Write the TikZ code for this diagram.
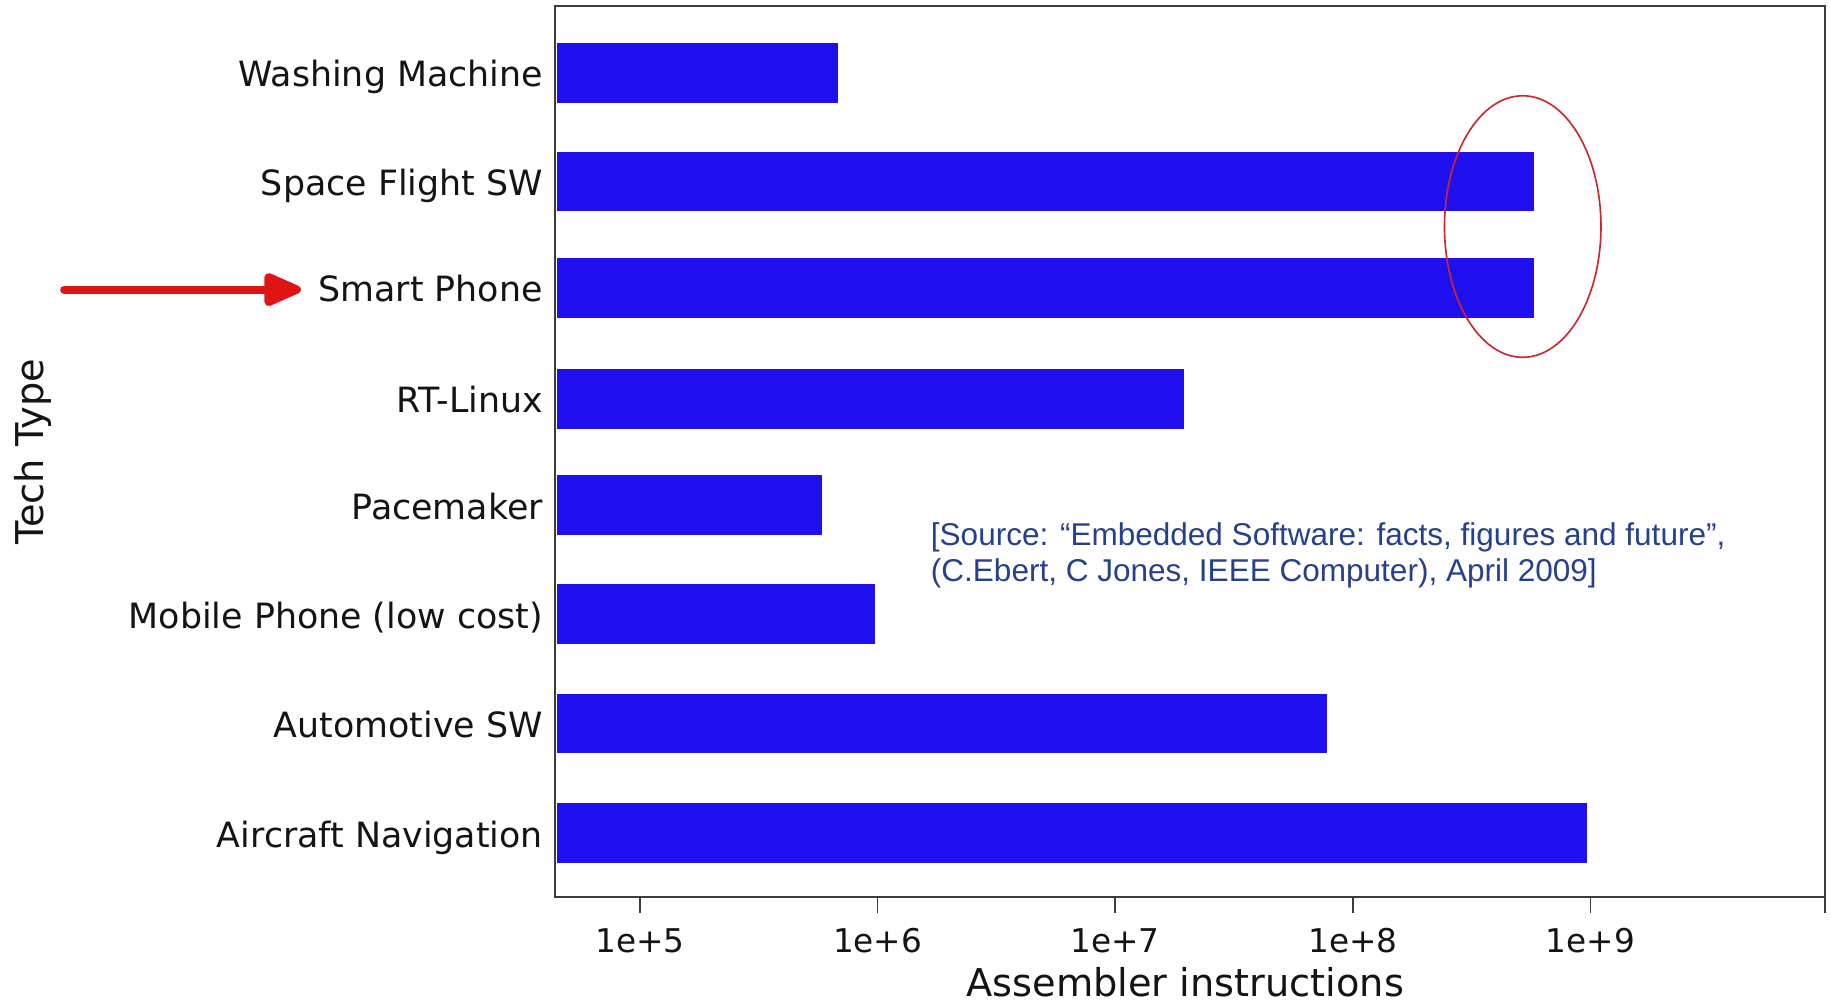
\documentclass[tikz,border=0pt]{standalone}
\usepackage{fontspec}
\setmainfont{DejaVu Sans}
\newfontfamily\srcfont{Liberation Sans}
\usetikzlibrary{arrows.meta,shapes.geometric}
\definecolor{barblue}{RGB}{32,16,240}
\definecolor{srcblue}{RGB}{38,64,140}
\definecolor{ringred}{RGB}{200,40,45}
\definecolor{arrred}{RGB}{225,20,20}
\definecolor{framegray}{RGB}{60,60,60}
\definecolor{lblgray}{RGB}{20,20,20}
\begin{document}
\begin{tikzpicture}[x=1pt,y=-1pt,
  bar/.style={fill=barblue,draw=none,anchor=west,minimum height=51pt,inner sep=0,outer sep=0},
  catlbl/.style={anchor=base east,inner sep=0,text=lblgray,font=\fontsize{29.8}{34}\selectfont},
  ticklbl/.style={anchor=base,inner sep=0,text=lblgray,font=\fontsize{28}{33}\selectfont},
  axtitle/.style={inner sep=0,text=lblgray,font=\fontsize{32.8}{37}\selectfont},
  frame/.style={draw=framegray,line width=2pt},
  tickmark/.style={draw=framegray,line width=1.6pt},
  srctext/.style={anchor=base west,inner sep=0,text=srcblue,font=\srcfont\fontsize{27}{30.5}\selectfont},
  redarrow/.style={draw=arrred,line width=7pt,line cap=round,-{Triangle[length=37pt,width=30pt,round]},arrred},
  ring/.style={draw=ringred,line width=1.4pt,ellipse,inner sep=0}
]
\fill[white] (0,0) rectangle (1568,859);
\useasboundingbox (0,0) rectangle (1568,859);

% bars
\node[bar,minimum width=241pt] (bWM) at (477,62.5) {};
\node[bar,minimum width=837pt] (bSF) at (477,155.5) {};
\node[bar,minimum width=837pt] (bSP) at (477,246.5) {};
\node[bar,minimum width=537pt] (bRT) at (477,341.5) {};
\node[bar,minimum width=227pt] (bPM) at (477,432.5) {};
\node[bar,minimum width=272pt] (bMP) at (477,526) {};
\node[bar,minimum width=659pt] (bAS) at (477,619.5) {};
\node[bar,minimum width=882pt] (bAN) at (477,713.5) {};

% category labels
\node[catlbl] (lWM) at (465,74.5) {Washing Machine};
\node[catlbl] (lSF) at (465,167.5) {Space Flight SW};
\node[catlbl] (lSP) at (465,258.5) {Smart Phone};
\node[catlbl] (lRT) at (465,353.5) {RT-Linux};
\node[catlbl] (lPM) at (465,444.5) {Pacemaker};
\node[catlbl] (lMP) at (465,538) {Mobile Phone (low cost)};
\node[catlbl] (lAS) at (465,631.5) {Automotive SW};
\node[catlbl] (lAN) at (465,725.5) {Aircraft Navigation};

% frame and ticks
\draw[frame] (475,5) rectangle (1563,768);
\draw[tickmark] (1563,768) -- (1563,782);
\foreach \k/\t in {0/5,1/6,2/7,3/8,4/9}{
  \draw[tickmark] (548+203.5*\k,768) -- (548+203.5*\k,782);
  \node[ticklbl] (t\t) at (548+203.5*\k,816) {1e+\t};
}

% axis titles
\node[axtitle,anchor=base] (xt) at (1015,853) {Assembler instructions};
\node[axtitle,anchor=base,rotate=90] (yt) at (37,387) {Tech Type};

% source
\node[srctext] (src1) at (797,467) {[Source: “Embedded Software: facts, figures and future”,};
\node[srctext] (src2) at (797,498) {(C.Ebert, C Jones, IEEE Computer), April 2009]};

% highlight ellipse
\node[ring,minimum width=134pt,minimum height=224pt] (hl) at (1304,194) {};

% red arrow
\coordinate (arrS) at (55,248);
\draw[redarrow,shorten >=15pt] (arrS) -- (arrS -| lSP.west);
\end{tikzpicture}
\end{document}
